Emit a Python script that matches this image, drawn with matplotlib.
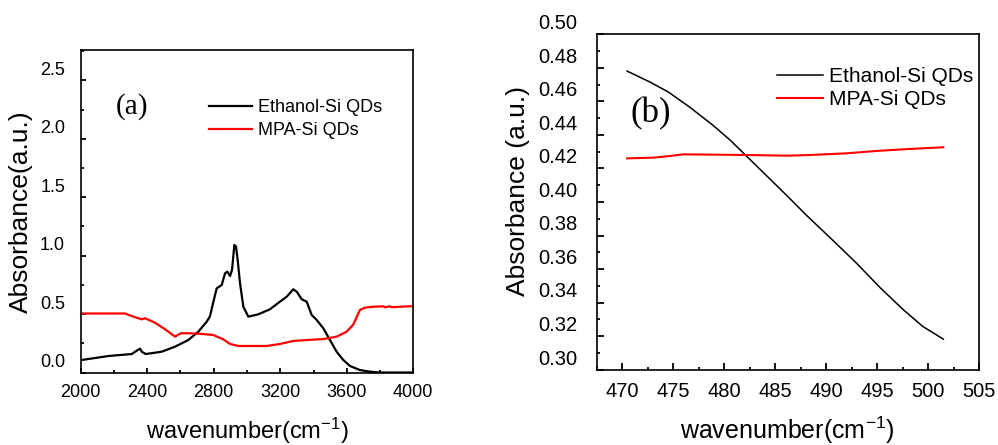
import matplotlib
matplotlib.use('Agg')
import matplotlib.pyplot as plt
from matplotlib.ticker import MultipleLocator
from matplotlib.transforms import ScaledTranslation

plt.rcParams['font.family'] = ['Liberation Sans', 'DejaVu Sans']
plt.rcParams['mathtext.fontset'] = 'custom'
plt.rcParams['mathtext.rm'] = 'Liberation Sans'
plt.rcParams['mathtext.it'] = 'Liberation Sans:italic'

# ---------------- data: panel (a) ----------------
wn_a_eth = [2000, 2006, 2166, 2307, 2337, 2357, 2367, 2391, 2487, 2567, 2647, 2707,
            2758, 2777, 2797, 2818, 2848, 2868, 2882, 2898, 2910, 2924, 2934, 2944,
            2958, 2978, 3008, 3068, 3138, 3198, 3239, 3278, 3299, 3329, 3359, 3389,
            3419, 3459, 3499, 3539, 3579, 3619, 3679, 3740, 3800, 3900, 4000]
abs_a_eth = [0.105, 0.107, 0.141, 0.158, 0.187, 0.204, 0.178, 0.158, 0.178, 0.221, 0.278, 0.349,
             0.435, 0.480, 0.600, 0.721, 0.749, 0.849, 0.863, 0.826, 0.878, 1.092, 1.077, 0.963,
             0.764, 0.563, 0.478, 0.498, 0.541, 0.606, 0.649, 0.712, 0.692, 0.627, 0.606, 0.492,
             0.450, 0.378, 0.278, 0.178, 0.107, 0.056, 0.021, 0.007, 0.0, 0.0, 0.0]

wn_a_mpa = [2000, 2266, 2326, 2367, 2387, 2447, 2507, 2567, 2603, 2647, 2728, 2797,
            2857, 2898, 2948, 3118, 3198, 3278, 3359, 3459, 3539, 3599, 3639, 3679,
            3709, 3759, 3820, 3830, 3860, 3870, 4000]
abs_a_mpa = [0.505, 0.505, 0.473, 0.455, 0.464, 0.426, 0.370, 0.307, 0.336, 0.336, 0.330, 0.321,
             0.284, 0.244, 0.227, 0.227, 0.244, 0.270, 0.278, 0.286, 0.307, 0.349, 0.410, 0.535,
             0.555, 0.563, 0.566, 0.558, 0.567, 0.559, 0.568]

# ---------------- data: panel (b) ----------------
wn_b_eth = [470.5, 472.7, 474.5, 476.6, 478.9, 480.6, 482.2, 484.2, 486.3, 488.1,
            490.7, 493.0, 495.3, 497.6, 499.5, 501.5]
abs_b_eth = [0.478, 0.4716, 0.4657, 0.4567, 0.4458, 0.4369, 0.4274, 0.4155, 0.4030, 0.3920,
             0.3770, 0.3635, 0.3490, 0.3357, 0.3258, 0.3183]

wn_b_mpa = [470.5, 473.0, 474.7, 476.0, 482.2, 486.3, 488.4, 492.0, 494.9, 497.9, 501.5]
abs_b_mpa = [0.4260, 0.4264, 0.4274, 0.4284, 0.4280, 0.4276, 0.4280, 0.4290, 0.4304, 0.4315, 0.4326]

series_labels = ['Ethanol-Si QDs', 'MPA-Si QDs']
series_colors = ['#000000', '#ff0000']

W, H, DPI = 998, 445, 100
fig = plt.figure(figsize=(W / DPI, H / DPI), dpi=DPI)


def px_axes(l, t, r, b):
    return fig.add_axes([l / W, 1 - b / H, (r - l) / W, (b - t) / H])


def shift_ylabels(ax, px):
    off = ScaledTranslation(0, px / DPI, fig.dpi_scale_trans)
    for tk in ax.yaxis.get_major_ticks():
        tk.label1.set_transform(tk.label1.get_transform() + off)


# ---------------- panel (a) ----------------
axa = px_axes(80.7, 50, 413.3, 372.5)
axa.plot(wn_a_eth, abs_a_eth, color=series_colors[0], lw=1.6, label=series_labels[0])
axa.plot(wn_a_mpa, abs_a_mpa, color=series_colors[1], lw=1.6, label=series_labels[1])
axa.set_xlim(2000, 4000)
axa.set_ylim(0, 2.76)
axa.xaxis.set_major_locator(MultipleLocator(400))
axa.xaxis.set_minor_locator(MultipleLocator(200))
axa.set_yticks([0, 0.5, 1.0, 1.5, 2.0, 2.5])
axa.set_yticklabels(['0.0', '0.5', '1.0', '1.5', '2.0', '2.5'])
axa.yaxis.set_minor_locator(MultipleLocator(0.25))
axa.tick_params(which='both', direction='in', width=1.3, labelsize=13, top=False, right=False)
axa.tick_params(which='major', length=3.6)
axa.tick_params(which='minor', length=2.0)
axa.tick_params(axis='y', pad=11.3)
axa.tick_params(axis='x', pad=8)
for s in axa.spines.values():
    s.set_linewidth(1.2)
axa.set_xlabel('wavenumber(cm$^{-1}$)', fontsize=17)
axa.xaxis.label.set_va('center')
axa.xaxis.set_label_coords(0.5, -0.18)
axa.set_ylabel('Absorbance(a.u.)', fontsize=19)
axa.yaxis.label.set_va('center')
axa.yaxis.set_label_coords(-0.18, 0.5)
axa.text(132 / W, 1 - 107 / H, '(a)', transform=fig.transFigure, fontsize=21,
         family=['Liberation Serif', 'DejaVu Serif'], ha='center', va='center')
axa.legend(loc='upper left', bbox_to_anchor=(209 / W, 1 - 99 / H), bbox_transform=fig.transFigure,
           frameon=False, fontsize=13, handlelength=2.4, handletextpad=0.3,
           labelspacing=0.35, borderpad=0, borderaxespad=0)
shift_ylabels(axa, 12)

# ---------------- panel (b) ----------------
axb = px_axes(596.5, 34, 979, 370)
axb.plot(wn_b_eth, abs_b_eth, color=series_colors[0], lw=1.1, label=series_labels[0])
axb.plot(wn_b_mpa, abs_b_mpa, color=series_colors[1], lw=1.5, label=series_labels[1])
axb.set_xlim(467.5, 505.0)
axb.set_ylim(0.2999, 0.5001)
axb.xaxis.set_major_locator(MultipleLocator(5))
axb.xaxis.set_minor_locator(MultipleLocator(2.5))
yt_b = [0.30, 0.32, 0.34, 0.36, 0.38, 0.40, 0.42, 0.44, 0.46, 0.48, 0.50]
axb.set_yticks(yt_b)
axb.set_yticklabels(['%.2f' % v for v in yt_b])
axb.yaxis.set_minor_locator(MultipleLocator(0.01))
axb.tick_params(which='both', direction='in', width=1.3, labelsize=14.5, top=False, right=False)
axb.tick_params(which='major', length=4.8)
axb.tick_params(which='minor', length=2.2)
axb.tick_params(axis='y', pad=13.7)
axb.tick_params(axis='x', pad=8.4)
for s in axb.spines.values():
    s.set_linewidth(1.2)
axb.set_xlabel('wavenumber(cm$^{-1}$)', fontsize=18)
axb.xaxis.label.set_va('center')
axb.xaxis.set_label_coords(0.5, -0.179)
axb.set_ylabel('Absorbance (a.u.)', fontsize=19)
axb.yaxis.label.set_va('center')
axb.yaxis.set_label_coords(-0.2065, 0.533)
axb.text(651 / W, 1 - 114 / H, '(b)', transform=fig.transFigure, fontsize=25,
         family=['Liberation Serif', 'DejaVu Serif'], ha='center', va='center')
axb.legend(loc='upper left', bbox_to_anchor=(776.7 / W, 1 - 67 / H), bbox_transform=fig.transFigure,
           frameon=False, fontsize=15, handlelength=2.24, handletextpad=0.27,
           labelspacing=0.2, borderpad=0, borderaxespad=0)
shift_ylabels(axb, 12.7)

fig.savefig('out.png', dpi=DPI)
